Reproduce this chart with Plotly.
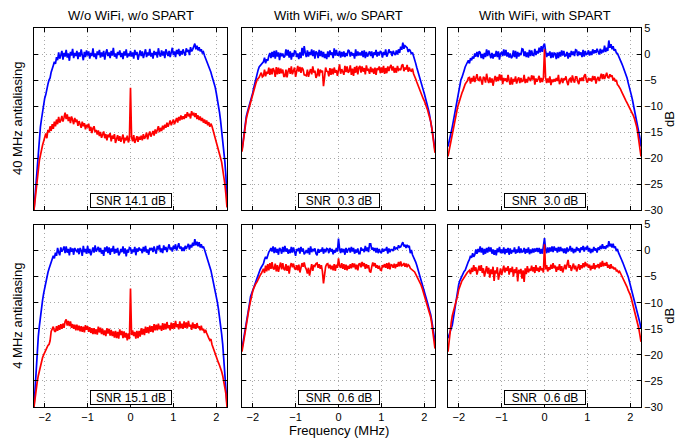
import plotly.graph_objects as go
from plotly.subplots import make_subplots

freq = [-2.25, -2.225, -2.2, -2.175, -2.15, -2.125, -2.1, -2.075, -2.05, -2.025,
        -2.0, -1.975, -1.95, -1.925, -1.9, -1.875, -1.85, -1.825, -1.8, -1.775,
        -1.75, -1.725, -1.7, -1.675, -1.65, -1.625, -1.6, -1.575, -1.55, -1.525,
        -1.5, -1.475, -1.45, -1.425, -1.4, -1.375, -1.35, -1.325, -1.3, -1.275,
        -1.25, -1.225, -1.2, -1.175, -1.15, -1.125, -1.1, -1.075, -1.05, -1.025,
        -1.0, -0.975, -0.95, -0.925, -0.9, -0.875, -0.85, -0.825, -0.8, -0.775,
        -0.75, -0.725, -0.7, -0.675, -0.65, -0.625, -0.6, -0.575, -0.55, -0.525,
        -0.5, -0.475, -0.45, -0.425, -0.4, -0.375, -0.35, -0.325, -0.3, -0.275,
        -0.25, -0.225, -0.2, -0.175, -0.15, -0.125, -0.1, -0.075, -0.05, -0.025,
        0.0, 0.025, 0.05, 0.075, 0.1, 0.125, 0.15, 0.175, 0.2, 0.225,
        0.25, 0.275, 0.3, 0.325, 0.35, 0.375, 0.4, 0.425, 0.45, 0.475,
        0.5, 0.525, 0.55, 0.575, 0.6, 0.625, 0.65, 0.675, 0.7, 0.725,
        0.75, 0.775, 0.8, 0.825, 0.85, 0.875, 0.9, 0.925, 0.95, 0.975,
        1.0, 1.025, 1.05, 1.075, 1.1, 1.125, 1.15, 1.175, 1.2, 1.225,
        1.25, 1.275, 1.3, 1.325, 1.35, 1.375, 1.4, 1.425, 1.45, 1.475,
        1.5, 1.525, 1.55, 1.575, 1.6, 1.625, 1.65, 1.675, 1.7, 1.725,
        1.75, 1.775, 1.8, 1.825, 1.85, 1.875, 1.9, 1.925, 1.95, 1.975,
        2.0, 2.025, 2.05, 2.075, 2.1, 2.125, 2.15, 2.175, 2.2, 2.225,
        2.25]

col_titles = ["W/o WiFi, w/o SPART", "With WiFi, w/o SPART", "With WiFi, with SPART"]
row_titles = ["40 MHz antialiasing", "4 MHz antialiasing"]
snr_labels = [["SNR 14.1 dB", "SNR\u00a0 0.3 dB", "SNR\u00a0 3.0 dB"],
              ["SNR 15.1 dB", "SNR\u00a0 0.6 dB", "SNR\u00a0 0.6 dB"]]
x_ticks = [-2, -1, 0, 1, 2]
y_ticks = [-30, -25, -20, -15, -10, -5, 0, 5]

# ---------------- Row 1: 40 MHz antialiasing ----------------
blue_11 = [-30, -27, -24, -21, -18.5, -16, -14, -12.5, -11, -10,
           -8.5, -7.8, -6.5, -5.8, -5.0, -4.6, -3.5, -3.0, -2.2, -1.5,
           -1.9, -0.6, -1.2, 0.3, -0.9, -0.2, 0.6, -1.1, 0.2, -0.5,
           0.8, -0.7, 0.1, -1.3, 0.4, -0.3, 1.0, -0.8, 0.2, -0.4,
           0.6, -1.0, 0.3, -0.5, 0.9, -0.2, -1.2, 0.4, -0.6, 0.7,
           -0.3, 0.5, -0.9, 0.2, -0.4, 1.1, -0.6, 0.1, -1.0, 0.5,
           -0.2, 0.8, -0.7, 0.3, -0.5, 0.6, -1.1, 0.2, 0.9, -0.4,
           0.3, -0.8, 0.6, -0.3, 1.2, -0.5, 0.1, -0.9, 0.4, -0.2,
           0.7, -0.6, 0.2, -1.0, 0.5, -0.3, 0.9, -0.7, 0.1, -0.4,
           0.6, -0.5, 0.3, -0.9, 0.8, -0.2, 0.4, -1.1, 0.2, 0.7,
           -0.4, 0.5, -0.8, 0.1, 0.9, -0.6, 0.3, -0.3, 1.0, -0.5,
           0.2, -0.9, 0.6, -0.2, 0.4, -0.7, 1.1, 0.0, -0.5, 0.7,
           -0.3, 0.5, -0.8, 0.9, 0.1, -0.4, 0.6, -0.6, 0.3, 1.2,
           -0.2, 0.5, -0.6, 0.8, 0.0, 1.0, -0.4, 0.6, -0.1, 0.9,
           0.2, -0.3, 1.1, 0.4, 0.8, -0.2, 1.3, 0.5, 0.9, 1.5,
           2.0, 0.9, 1.6, 0.7, 1.3, 0.5, 0.9, 0.2, 0.4, -0.3,
           -0.8, -1.3, -1.9, -2.4, -3.0, -3.5, -4.3, -4.9, -5.5, -6.4,
           -7.5, -8.6, -10.0, -11.2, -12.8, -14.5, -16.3, -18.5, -20.7, -23.5,
           -28.5]
red_11 = [-30, -28, -25.5, -23.5, -22, -20.5, -19.5, -18.2, -17.5, -16.8,
          -16.0, -15.3, -16.2, -14.6, -15.1, -13.9, -14.8, -13.5, -14.4, -13.0,
          -13.9, -12.6, -13.5, -12.1, -13.2, -12.8, -11.9, -13.0, -12.2, -11.3,
          -12.5, -11.6, -12.9, -12.1, -13.3, -12.0, -12.7, -13.5, -12.3, -13.1,
          -12.6, -13.8, -12.9, -13.4, -14.2, -13.0, -13.9, -13.3, -14.5, -13.6,
          -14.1, -13.4, -14.8, -14.0, -15.2, -14.3, -13.9, -15.0, -14.6, -15.5,
          -14.7, -15.8, -15.0, -16.1, -15.3, -14.9, -16.2, -15.4, -16.6, -15.5,
          -16.0, -15.2, -16.8, -15.7, -16.3, -15.4, -17.1, -16.0, -15.6, -16.7,
          -15.8, -16.9, -16.2, -15.5, -17.2, -16.1, -16.6, -15.7, -17.0, -16.3,
          -6.5, -16.0, -16.8, -15.6, -17.1, -16.2, -15.8, -16.9, -15.9, -16.5,
          -15.7, -16.6, -15.4, -16.3, -15.9, -15.1, -16.4, -15.5, -14.9, -15.9,
          -15.2, -14.8, -15.7, -14.5, -15.3, -14.6, -13.9, -15.0, -14.2, -14.8,
          -13.8, -14.5, -13.6, -14.2, -13.2, -14.0, -13.5, -12.8, -13.7, -13.1,
          -12.6, -13.5, -12.9, -12.3, -13.2, -12.1, -12.8, -11.8, -12.6, -12.0,
          -12.5, -11.6, -12.3, -11.2, -12.0, -11.5, -12.4, -11.0, -11.8, -11.3,
          -12.1, -11.4, -12.5, -11.8, -12.7, -12.0, -12.9, -12.3, -13.2, -12.6,
          -13.4, -12.8, -13.7, -13.1, -14.0, -13.4, -13.9, -14.6, -15.3, -16.2,
          -17.0, -17.8, -18.5, -19.2, -20.0, -20.8, -22.0, -23.5, -25.0, -27.0,
          -29.5]
blue_12 = [-18.5, -16.8, -15.0, -13.5, -12.0, -11.2, -10.5, -9.9, -9.3, -8.4,
           -7.5, -6.5, -5.5, -4.6, -3.8, -3.1, -2.5, -2.2, -2.0, -1.7,
           -1.5, -0.7, -1.8, -1.0, -1.3, -0.4, 0.2, -0.8, 0.4, -0.6,
           0.6, -0.9, 0.7, -0.5, 0.3, -1.2, 0.2, -0.4, 0.1, -0.7,
           -0.4, 0.9, -0.3, 0.8, -0.7, 0.5, -1.1, 0.2, -0.5, 0.6,
           0.5, -0.6, 0.1, -1.0, 0.3, -0.8, 1.2, -0.3, 1.5, 0.2,
           -0.6, 0.7, -0.5, 0.4, -0.2, 0.9, -0.4, 0.7, -0.9, 0.5,
           0.2, -0.8, 0.8, -0.4, 0.6, -0.6, 0.4, -0.8, 0.0, -1.0,
           0.5, -0.6, 0.7, -0.2, 0.3, -0.8, 1.1, -0.3, 0.8, -0.2,
           -0.2, 0.6, -0.7, 0.4, -0.5, 0.5, -0.6, 0.2, -0.4, 0.8,
           0.6, -0.5, 0.4, -0.3, 0.1, -0.9, 0.9, -0.4, 0.5, -0.3,
           0.3, -0.3, 0.6, -0.6, 0.7, -0.8, 0.4, -0.5, 0.2, 0.5,
           -0.4, 0.5, -0.8, 0.3, -0.2, 0.8, -0.5, 0.4, -0.3, 0.6,
           0.3, -0.7, 0.4, -0.2, 0.9, -0.5, 0.0, 0.9, 0.2, 0.5,
           -0.4, 0.6, 0.1, -0.2, 0.7, -0.1, 0.9, 0.2, 1.4, 0.8,
           2.2, 1.0, 1.6, 1.3, 1.2, 0.4, 0.9, 0.6, 0.0, 0.3,
           -0.6, -1.1, -1.8, -2.6, -3.4, -4.2, -5.0, -5.6, -6.3, -6.9,
           -7.6, -8.3, -9.0, -9.9, -10.8, -11.8, -12.8, -14.0, -15.5, -17.0,
           -18.5]
red_12 = [-18.8, -17.0, -15.5, -14.0, -12.5, -11.6, -10.8, -10.2, -9.5, -8.5,
          -7.5, -6.8, -6.2, -5.6, -5.0, -4.8, -4.5, -4.0, -3.6, -4.4,
          -4.2, -3.0, -4.3, -3.4, -3.8, -2.6, -4.0, -2.8, -3.9, -2.7,
          -3.2, -4.4, -2.5, -3.9, -2.6, -3.8, -2.8, -3.7, -3.0, -4.3,
          -4.3, -3.0, -4.5, -3.3, -2.7, -3.8, -2.4, -3.9, -3.1, -2.6,
          -4.4, -3.3, -2.3, -3.4, -2.5, -3.6, -2.6, -3.0, -4.0, -4.1,
          -4.2, -3.0, -4.4, -3.5, -2.9, -3.9, -2.4, -3.6, -3.2, -4.6,
          -4.1, -2.8, -4.3, -3.0, -3.5, -3.2, -6.2, -4.5, -2.6, -3.3,
          -3.4, -4.3, -2.7, -4.0, -2.8, -3.9, -2.6, -3.6, -3.1, -4.2,
          -2.5, -2.0, -3.8, -2.9, -3.4, -4.0, -2.3, -3.5, -2.4, -3.6,
          -3.3, -2.2, -4.0, -2.8, -4.2, -2.5, -3.6, -2.3, -3.9, -2.6,
          -2.3, -3.6, -2.4, -3.4, -2.7, -3.9, -2.2, -3.2, -3.0, -3.8,
          -2.5, -3.5, -2.8, -3.8, -2.6, -4.0, -2.7, -3.1, -2.4, -3.7,
          -2.6, -3.6, -2.3, -3.8, -2.7, -3.7, -2.4, -3.3, -2.5, -2.1,
          -3.2, -2.4, -3.6, -2.7, -3.6, -2.3, -3.1, -2.9, -3.1, -2.2,
          -2.0, -3.3, -2.6, -3.0, -2.1, -3.4, -2.6, -3.2, -3.3, -2.8,
          -3.8, -4.2, -4.8, -5.4, -6.0, -6.5, -7.0, -7.6, -8.2, -8.6,
          -9.0, -9.5, -10.0, -10.7, -11.5, -12.2, -13.0, -14.2, -15.8, -17.4,
          -19.0]
blue_13 = [-17.8, -17.0, -16.0, -15.0, -14.0, -12.8, -11.5, -10.2, -9.0, -8.0,
           -7.0, -6.0, -5.0, -4.5, -4.0, -3.2, -2.5, -2.0, -1.5, -1.2,
           -1.8, -0.8, -1.2, -0.5, -0.9, 0.1, -0.5, 0.4, -0.6, 0.5,
           0.3, -0.8, 0.0, -1.0, 0.2, -0.6, 0.9, -0.4, 0.7, -0.3,
           -0.8, 0.2, -0.9, 0.0, -0.5, 0.6, -0.6, 0.5, -1.1, 0.1,
           0.3, -0.4, 0.9, -0.3, 0.8, -0.5, 0.3, -0.7, 0.1, -0.8,
           -0.5, 0.7, -0.6, 0.6, -0.9, 0.4, -0.5, 0.2, -0.2, 1.0,
           0.9, -0.4, 0.5, -0.6, 0.3, -0.7, 0.8, -0.4, 0.7, -0.2,
           -0.3, 1.0, -0.2, 0.6, 0.1, 1.2, 0.3, 1.5, 0.4, 1.6,
           2.0, 0.6, -0.6, 0.2, -0.3, 0.5, -0.8, 0.3, -0.7, 0.2,
           0.1, -1.0, 0.3, -0.8, 0.4, -0.5, 0.7, -0.3, 0.6, -0.4,
           -0.3, 0.4, -0.9, 0.2, -0.6, 0.6, -0.2, 0.5, -0.4, 0.8,
           0.7, -0.4, 0.5, -0.2, 0.3, -0.6, 0.8, -0.5, 0.6, -0.1,
           0.0, 0.7, -0.3, 0.5, -0.2, 0.9, 0.1, 0.7, 0.2, 1.0,
           0.6, -0.1, 1.0, 0.1, 0.8, 0.3, 1.6, 0.4, 1.2, 0.6,
           2.6, 1.2, 1.9, 0.9, 1.5, 0.6, 0.9, 0.2, 0.1, -0.3,
           -0.7, -1.2, -1.8, -2.3, -2.8, -3.3, -3.8, -4.6, -5.5, -6.2,
           -7.0, -7.9, -8.8, -9.8, -10.8, -11.8, -12.8, -13.8, -14.8, -16.2,
           -17.8]
red_13 = [-19.7, -18.6, -17.5, -16.3, -15.2, -14.1, -13.0, -12.0, -11.0, -10.2,
          -9.5, -8.7, -8.0, -7.5, -7.0, -6.3, -5.8, -5.5, -5.2, -4.6,
          -4.5, -5.7, -4.6, -5.3, -4.2, -5.4, -4.8, -3.9, -5.0, -5.1,
          -4.3, -5.0, -5.9, -4.4, -4.6, -5.5, -3.8, -4.9, -5.6, -4.5,
          -5.5, -4.7, -6.1, -5.0, -4.2, -5.3, -4.4, -5.2, -3.9, -5.0,
          -4.0, -5.8, -4.6, -5.2, -4.7, -5.4, -4.0, -5.1, -5.9, -4.5,
          -5.9, -4.8, -5.3, -4.3, -5.7, -4.9, -4.5, -5.6, -4.6, -5.3,
          -5.2, -4.0, -5.6, -4.8, -5.5, -4.4, -5.0, -5.2, -4.1, -4.9,
          -4.2, -5.9, -4.7, -5.3, -4.8, -4.2, -5.5, -4.6, -5.4, -4.6,
          0.9, -4.5, -5.6, -4.7, -5.5, -4.3, -6.0, -4.9, -5.4, -4.8,
          -5.3, -4.6, -5.2, -4.0, -5.8, -4.9, -4.6, -5.6, -4.7, -5.0,
          -4.3, -5.4, -6.0, -4.9, -4.7, -5.5, -4.1, -5.0, -5.5, -4.4,
          -4.4, -5.3, -5.8, -4.6, -5.2, -4.5, -5.2, -4.2, -3.9, -5.0,
          -5.5, -4.6, -5.1, -4.7, -5.3, -4.2, -5.0, -4.3, -5.7, -4.8,
          -4.4, -5.2, -4.5, -3.8, -4.8, -3.9, -4.8, -4.1, -3.6, -4.5,
          -4.6, -3.9, -4.4, -4.1, -5.1, -4.6, -5.3, -5.0, -5.9, -6.1,
          -6.4, -6.8, -7.3, -7.8, -8.2, -8.6, -9.0, -9.4, -9.8, -10.1,
          -10.5, -10.9, -11.3, -11.9, -12.5, -13.2, -14.0, -15.2, -16.5, -18.0,
          -19.7]

# ---------------- Row 2: 4 MHz antialiasing ----------------
blue_21 = [-30, -26, -22, -19, -16.5, -14.5, -12.5, -11, -9.5, -8.2,
           -7.0, -6.0, -5.0, -4.2, -3.5, -2.8, -2.2, -1.6, -1.0, -1.5,
           -0.4, -1.0, 0.5, -0.3, -0.9, 0.6, -0.2, 0.2, 0.8, -0.5,
           0.8, -0.4, 0.3, -0.9, 0.6, -0.2, 0.4, -0.8, 0.5, 0.0,
           -0.2, 0.4, -0.7, 0.5, 0.0, -1.0, 0.9, -0.3, 0.3, -0.6,
           0.9, -0.5, 0.3, -0.9, 0.2, 0.6, -0.4, 1.0, -0.2, 0.4,
           0.7, -0.3, 0.5, -0.6, 0.1, -1.0, 0.6, -0.2, 0.8, -0.5,
           0.6, -0.8, 0.4, -0.2, 0.9, -0.6, 0.3, -0.4, 0.5, -0.9,
           -0.5, 0.3, -0.3, 0.8, -0.6, 0.4, -1.1, 0.2, -0.4, 0.6,
           0.5, -0.6, 0.2, -0.3, 0.7, -0.9, 0.4, -0.2, 0.6, 0.0,
           0.3, -0.5, 0.7, -0.2, 0.9, -0.4, 0.2, -0.8, 0.5, 0.1,
           0.5, -0.3, 0.8, 0.0, -0.6, 0.9, 0.2, 1.1, -0.3, 0.4,
           -0.5, 1.0, 0.1, 0.7, -0.3, 0.5, 1.2, 0.2, 0.6, -0.2,
           0.9, 0.3, 1.2, 0.0, 0.7, 1.4, 0.4, 0.8, -0.1, 0.6,
           -0.1, 0.9, 0.3, 0.7, 1.3, 0.2, 1.1, 0.6, 1.5, 0.9,
           2.2, 1.0, 1.7, 0.8, 1.6, 0.6, 1.2, 0.5, 0.8, 0.2,
           -0.5, -0.9, -1.5, -2.2, -3.0, -3.8, -4.8, -5.7, -6.7, -7.6,
           -8.7, -9.9, -11.2, -12.5, -14.0, -16.0, -18.0, -20.5, -23.0, -26.0,
           -29.5]
red_21 = [-30, -28, -26.5, -25.2, -24.0, -23.0, -22.0, -21.2, -20.5, -20.0,
          -19.5, -19.0, -18.5, -18.2, -18.0, -17.3, -15.5, -15.0, -14.6, -15.4,
          -15.6, -14.5, -15.4, -14.3, -15.2, -14.1, -15.0, -14.0, -14.8, -13.6,
          -13.2, -14.4, -13.5, -14.5, -13.6, -14.8, -14.1, -15.0, -14.2, -15.3,
          -14.2, -15.3, -14.4, -15.5, -14.5, -15.6, -14.6, -15.7, -14.3, -15.2,
          -14.5, -15.6, -14.7, -15.8, -14.9, -16.0, -14.9, -16.0, -15.1, -16.1,
          -14.6, -15.7, -14.8, -16.0, -15.0, -16.2, -15.3, -16.4, -14.9, -15.9,
          -15.0, -16.3, -15.2, -16.4, -15.5, -16.7, -15.4, -16.8, -15.6, -16.9,
          -15.1, -16.2, -15.4, -16.8, -15.5, -16.7, -15.8, -17.2, -15.9, -17.0,
          -7.3, -16.2, -15.3, -16.4, -15.6, -16.9, -15.4, -16.8, -15.4, -16.5,
          -14.9, -16.1, -15.0, -16.2, -14.6, -15.8, -14.7, -15.9, -14.4, -15.6,
          -14.5, -15.7, -14.1, -15.3, -14.2, -15.3, -14.0, -15.1, -14.4, -15.4,
          -13.9, -15.2, -14.0, -15.1, -13.7, -14.9, -14.3, -15.3, -13.8, -15.0,
          -13.9, -15.0, -13.5, -14.7, -14.1, -15.1, -13.6, -14.9, -14.0, -15.0,
          -13.6, -14.8, -13.8, -14.9, -13.5, -14.6, -14.2, -15.2, -13.8, -14.9,
          -14.1, -15.0, -13.9, -14.8, -14.5, -15.3, -14.4, -15.3, -15.0, -15.8,
          -15.2, -15.8, -16.5, -16.8, -17.2, -17.0, -18.0, -18.6, -19.5, -19.8,
          -20.5, -21.0, -21.5, -22.0, -22.5, -23.2, -24.0, -25.0, -26.0, -27.5,
          -30]
blue_22 = [-18.8, -17.6, -16.5, -15.5, -14.5, -13.0, -11.5, -10.2, -8.8, -8.2,
           -7.5, -6.9, -6.3, -5.9, -5.5, -4.7, -4.0, -3.6, -3.2, -2.8,
           -2.5, -1.7, -1.2, -1.6, -0.8, -0.3, 0.0, 0.5, -0.2, 0.8,
           -0.5, 0.6, -0.4, 0.3, -0.8, 0.5, 0.2, -0.6, 0.7, -0.3,
           0.9, -0.2, 0.4, -0.6, 0.2, -0.5, 0.7, -0.4, 0.6, -0.3,
           -1.0, 0.3, -0.1, 0.5, -0.6, 0.7, -0.2, 0.4, -0.7, -0.4,
           0.1, -0.5, 0.5, -0.8, 0.8, -0.3, 0.3, 0.0, 0.4, -0.6,
           -0.9, 0.3, -0.4, 0.2, -0.2, 0.6, -0.6, 0.3, -0.3, 0.4,
           0.3, -0.5, 0.5, -0.2, 0.3, -0.7, 0.1, -0.4, 0.5, -0.2,
           2.3, 0.4, -0.5, 0.4, -0.3, 0.3, -0.8, 0.5, -0.4, 0.2,
           0.5, -0.4, 0.7, -0.2, 0.5, -0.6, 0.2, -0.4, 0.4, -0.6,
           -0.6, 0.6, 0.0, 0.3, -0.3, 0.9, -0.1, 0.6, -0.3, 1.3,
           1.3, 0.2, 0.6, -0.1, 0.5, -0.4, 0.5, -0.5, 0.3, -0.3,
           -0.5, 0.4, -0.2, 0.2, 0.1, 0.7, -0.6, 0.4, -0.3, 0.2,
           0.2, -0.1, 0.8, 0.3, 0.5, 0.3, 1.0, 0.6, 0.7, 1.2,
           1.6, 0.8, 1.1, 0.5, 1.1, 0.7, 0.9, -0.5, 0.1, -0.8,
           -1.2, -1.6, -2.2, -2.8, -3.5, -4.0, -4.6, -5.3, -6.0, -6.8,
           -7.6, -8.4, -9.2, -10.0, -10.8, -11.5, -12.3, -13.5, -14.8, -16.2,
           -17.5]
red_22 = [-19.4, -18.0, -16.8, -15.6, -14.5, -13.2, -11.8, -10.6, -9.5, -8.6,
          -7.8, -7.2, -6.6, -6.3, -6.0, -5.5, -5.0, -4.7, -4.4, -3.9,
          -3.5, -4.3, -2.9, -4.0, -2.6, -3.8, -2.4, -3.5, -2.2, -3.4,
          -3.6, -2.5, -4.0, -2.8, -4.1, -3.1, -2.3, -3.6, -2.4, -3.5,
          -3.8, -2.6, -3.9, -2.9, -4.4, -3.0, -2.4, -3.2, -2.5, -3.4,
          -3.7, -2.8, -3.8, -2.7, -4.2, -3.3, -2.4, -3.1, -2.3, -3.2,
          -3.6, -4.4, -3.3, -4.8, -3.5, -2.6, -3.9, -2.8, -3.0, -2.5,
          -2.4, -3.3, -2.6, -3.5, -2.8, -4.0, -6.3, -4.5, -3.1, -2.6,
          -2.5, -3.4, -2.7, -3.6, -2.9, -3.8, -2.6, -3.9, -2.7, -3.3,
          -1.5, -2.9, -3.3, -2.4, -3.5, -2.6, -3.7, -2.7, -3.8, -2.9,
          -3.5, -2.6, -3.4, -2.4, -3.2, -2.5, -3.6, -2.7, -3.8, -2.6,
          -2.5, -3.2, -2.2, -3.0, -2.4, -3.5, -2.6, -3.4, -2.8, -4.0,
          -4.2, -3.1, -2.3, -3.0, -2.4, -3.3, -2.8, -3.5, -2.9, -3.7,
          -3.8, -2.8, -3.2, -2.6, -3.3, -2.4, -3.5, -2.3, -3.6, -2.7,
          -2.8, -3.3, -2.5, -3.4, -2.6, -3.1, -2.2, -3.0, -2.1, -2.9,
          -2.8, -2.4, -3.1, -2.5, -3.2, -2.7, -2.9, -3.4, -3.6, -3.7,
          -3.8, -4.1, -4.5, -4.9, -5.3, -5.6, -6.0, -6.6, -7.2, -7.9,
          -8.6, -9.3, -10.0, -10.7, -11.5, -12.1, -12.8, -14.0, -15.5, -17.0,
          -18.8]
blue_23 = [-16.8, -16.2, -15.5, -15.0, -14.3, -13.0, -11.5, -10.2, -9.0, -7.8,
           -6.5, -5.8, -5.3, -4.8, -4.3, -4.0, -3.8, -3.1, -2.5, -2.1,
           -1.7, -1.0, -1.4, -0.5, -1.2, -0.8, 0.2, -0.6, 0.3, -0.3,
           0.8, -0.4, 0.5, -0.8, 0.3, -0.6, 0.5, -0.4, 0.7, -0.2,
           0.6, -0.6, 0.2, -0.8, 0.1, -0.9, 0.4, -0.3, 0.7, -0.5,
           0.2, -0.5, 0.6, -0.7, 0.3, -0.4, 0.5, -0.8, 0.4, -0.6,
           0.1, -0.3, 0.6, -0.6, 0.2, -0.4, 0.8, -0.5, 0.4, -0.3,
           -0.2, 0.5, -0.6, 0.3, -0.4, 0.6, -0.7, 0.2, -0.5, 0.4,
           -0.4, 0.4, -0.2, 0.5, -0.3, 0.5, -0.6, 0.3, -0.6, 0.6,
           2.4, 0.3, -0.5, 0.6, -0.4, 0.6, -0.2, 0.8, -0.3, 0.8,
           0.0, 0.5, -0.4, 0.7, -0.2, 0.7, -0.1, 0.4, -0.5, 0.4,
           -0.6, 0.6, -0.1, 0.1, 0.9, -0.2, 0.5, -0.5, 0.3, -0.3,
           0.7, 0.0, 0.4, -0.4, 0.6, 0.1, 0.9, -0.2, 0.5, 0.3,
           0.9, -0.2, 0.5, -0.5, 0.3, -0.3, 0.7, 0.0, 0.4, -0.4,
           0.6, 0.1, 0.9, 0.3, 1.2, 0.4, 0.8, 0.3, 1.0, 0.6,
           1.8, 0.8, 1.3, 0.6, 1.3, 0.5, 0.8, -0.1, 0.3, -0.4,
           -0.8, -1.3, -1.8, -2.3, -2.8, -3.4, -4.0, -4.5, -5.0, -5.8,
           -6.6, -7.3, -8.0, -8.8, -9.6, -10.4, -11.2, -12.0, -12.8, -13.9,
           -15.0]
red_23 = [-19.4, -17.3, -15.5, -13.8, -12.5, -11.7, -11.0, -10.4, -9.8, -8.6,
          -7.5, -6.8, -6.2, -5.8, -5.5, -5.1, -4.8, -4.5, -4.2, -4.0,
          -3.8, -4.5, -3.3, -4.1, -2.8, -3.9, -3.2, -4.6, -3.5, -2.9,
          -3.9, -2.8, -4.3, -3.4, -5.0, -3.7, -3.0, -4.4, -3.3, -5.2,
          -3.6, -4.5, -3.1, -5.8, -3.8, -4.4, -3.2, -5.6, -4.0, -3.4,
          -4.7, -3.5, -2.9, -4.2, -3.3, -3.9, -3.0, -4.6, -3.4, -4.1,
          -3.1, -5.0, -3.6, -4.3, -3.2, -5.9, -3.7, -4.4, -3.5, -5.4,
          -3.8, -6.0, -3.4, -4.5, -3.0, -4.2, -3.5, -3.9, -2.9, -4.0,
          -3.2, -4.3, -2.8, -3.9, -3.3, -4.1, -3.0, -3.8, -3.4, -4.2,
          1.2, -3.6, -2.8, -4.0, -3.2, -3.7, -2.7, -3.5, -2.4, -3.4,
          -2.9, -4.1, -3.1, -3.7, -2.6, -3.9, -3.0, -4.2, -3.3, -2.7,
          -3.6, -2.9, -1.8, -3.3, -2.8, -3.9, -3.0, -2.5, -3.6, -2.9,
          -4.0, -3.1, -2.6, -3.7, -2.8, -3.4, -2.4, -3.2, -2.2, -3.0,
          -2.5, -3.3, -2.7, -3.8, -2.9, -3.5, -2.4, -3.6, -2.8, -3.2,
          -2.6, -3.4, -2.3, -3.1, -2.0, -3.0, -2.4, -2.9, -2.2, -3.3,
          -2.7, -3.5, -2.6, -3.4, -3.1, -3.6, -3.3, -3.9, -3.8, -4.2,
          -4.0, -4.4, -4.8, -5.2, -5.6, -6.0, -6.5, -7.0, -7.6, -8.0,
          -8.5, -9.2, -10.0, -10.7, -11.5, -12.3, -13.2, -14.0, -15.0, -16.2,
          -17.5]

blue_series = [[blue_11, blue_12, blue_13], [blue_21, blue_22, blue_23]]
red_series = [[red_11, red_12, red_13], [red_21, red_22, red_23]]
for row in blue_series + red_series:
    for s in row:
        assert len(s) == len(freq), len(s)

FONT = "Liberation Sans, Arial, Helvetica, sans-serif"
OFF = 8  # page body margin: screen px = figure px + OFF
W, H = 685 - OFF, 445 - OFF
S_LEFT, S_RIGHT, S_TOP, S_BOTTOM = 34, 641, 28, 407
ML, MR = S_LEFT - OFF, W - (S_RIGHT - OFF)
MT, MB = S_TOP - OFF, H - (S_BOTTOM - OFF)
PW, PH = W - ML - MR, H - MT - MB

def px_x(p):
    return (p - OFF - ML) / PW

def px_y(p):
    return (H - MB - (p - OFF)) / PH

fig = make_subplots(rows=2, cols=3)

x_domains = [[px_x(34), px_x(227)], [px_x(242), px_x(435)], [px_x(448), px_x(641)]]
y_domains = [[px_y(210), px_y(28)], [px_y(407), px_y(224.5)]]
GRID = "#a8a8a8"

for r in range(2):
    for c in range(3):
        fig.add_trace(go.Scatter(x=freq, y=blue_series[r][c], mode="lines",
                                 line=dict(color="#0000ff", width=1.7),
                                 showlegend=False, hoverinfo="skip"),
                      row=r + 1, col=c + 1)
        fig.add_trace(go.Scatter(x=freq, y=red_series[r][c], mode="lines",
                                 line=dict(color="#ff0000", width=1.7),
                                 showlegend=False, hoverinfo="skip"),
                      row=r + 1, col=c + 1)
        idx = r * 3 + c + 1
        xa = "xaxis" if idx == 1 else f"xaxis{idx}"
        ya = "yaxis" if idx == 1 else f"yaxis{idx}"
        fig.layout[xa].update(
            domain=x_domains[c], range=[-2.25, 2.25], tickvals=x_ticks,
            showticklabels=(r == 1), ticks="inside", ticklen=4,
            tickcolor="black", showline=True, linecolor="black", linewidth=1,
            mirror="ticks", showgrid=True, gridcolor=GRID, griddash="1px,3px",
            gridwidth=1, zeroline=False,
            tickfont=dict(family=FONT, size=11, color="black"))
        fig.layout[ya].update(
            domain=y_domains[r], range=[-30, 5], tickvals=y_ticks,
            showticklabels=(c == 2), side="right" if c == 2 else "left",
            ticks="inside", ticklen=4, tickcolor="black", showline=True,
            linecolor="black", linewidth=1, mirror="ticks", showgrid=True,
            gridcolor=GRID, griddash="1px,3px", gridwidth=1, zeroline=False,
            tickfont=dict(family=FONT, size=11, color="black"))
        xr = "x" if idx == 1 else f"x{idx}"
        yr = "y" if idx == 1 else f"y{idx}"
        fig.add_annotation(x=0, y=-28.1, xref=xr, yref=yr, text=snr_labels[r][c],
                           showarrow=False, bgcolor="white", bordercolor="black",
                           borderwidth=1, borderpad=0, width=80, height=13,
                           xanchor="center", yanchor="middle",
                           font=dict(family=FONT, size=12, color="black"))

for c in range(3):
    cx = (x_domains[c][0] + x_domains[c][1]) / 2
    fig.add_annotation(x=cx, y=px_y(15), xref="paper", yref="paper",
                       text=col_titles[c], showarrow=False,
                       xanchor="center", yanchor="middle",
                       font=dict(family=FONT, size=13, color="black"))
for r in range(2):
    cy = (y_domains[r][0] + y_domains[r][1]) / 2
    fig.add_annotation(x=px_x(18), y=cy, xref="paper", yref="paper",
                       text=row_titles[r], textangle=-90, showarrow=False,
                       xanchor="center", yanchor="middle",
                       font=dict(family=FONT, size=13, color="black"))
    fig.add_annotation(x=px_x(670), y=cy, xref="paper", yref="paper",
                       text="dB", textangle=-90, showarrow=False,
                       xanchor="center", yanchor="middle",
                       font=dict(family=FONT, size=13, color="black"))
fig.add_annotation(x=(x_domains[1][0] + x_domains[1][1]) / 2, y=px_y(430),
                   xref="paper", yref="paper", text="Frequency (MHz)",
                   showarrow=False, xanchor="center", yanchor="middle",
                   font=dict(family=FONT, size=13, color="black"))

fig.update_layout(width=W, height=H, margin=dict(l=ML, r=MR, t=MT, b=MB),
                  paper_bgcolor="white", plot_bgcolor="white",
                  font=dict(family=FONT, size=11, color="black"))

fig.write_html("out.html")
